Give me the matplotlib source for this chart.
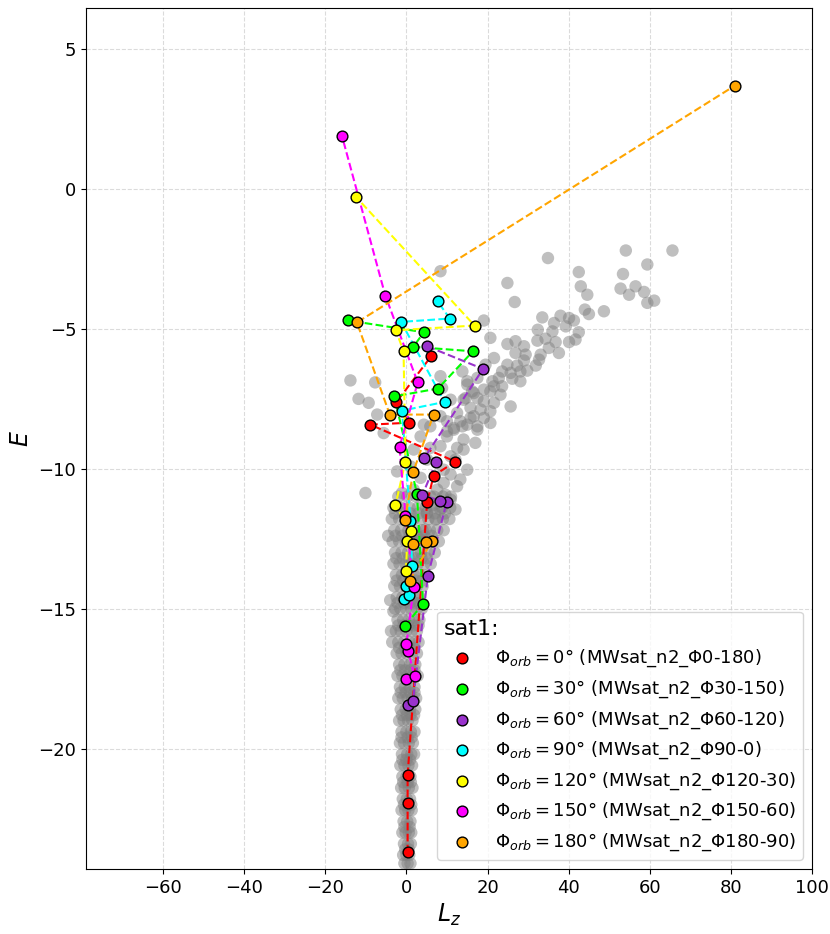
import matplotlib
matplotlib.use("Agg")
import matplotlib.pyplot as plt

# ---------------- background (gray) particles ----------------
# upper-right branch and middle region
bg_branch_lz = [54.1, 65.6, 34.9, 59.4, 42.5, 53.4, 24.9, 43.0, 52.8, 56.5, 54.9, 44.6, 58.6, 61.1, 59.4,
                26.7, 48.7, 44.0, 45.0, 33.5, 38.0, 40.1, 41.3, 36.4, 39.3, 19.1, 32.4, 36.0, 42.5, 41.7,
                40.1, 20.7, 32.3, 34.3, 36.8, 24.9, 26.9, 29.0, 35.1, 37.6, 33.1, 26.9, 29.4, 21.6, 32.7,
                29.0, 31.9, 24.9, 27.3, 29.8, 23.6, 28.1, 25.7, 22.8, 26.1, 28.1, 21.2, 21.6, 23.6, 19.1,
                13.8, 15.0, 16.2, 20.7, 23.2, 17.5, 19.1, 21.6, 25.7, 14.6, 15.8, 18.3, 20.7, 16.6, 19.1,
                20.7, 13.3, 15.0, 17.5, 11.7, 10.0, 8.4]
bg_branch_e = [-2.21, -2.21, -2.48, -2.71, -2.98, -3.05, -3.37, -3.49, -3.57, -3.49, -3.79, -3.79, -3.69, -4.00, -4.08,
               -4.05, -4.38, -4.32, -4.48, -4.60, -4.54, -4.62, -4.71, -4.80, -4.92, -4.71, -5.04, -5.10, -5.13, -5.39,
               -5.48, -5.33, -5.43, -5.36, -5.48, -5.55, -5.45, -5.63, -5.69, -5.87, -5.93, -5.87, -5.93, -6.05, -6.11,
               -6.14, -6.32, -6.29, -6.32, -6.50, -6.53, -6.53, -6.58, -6.76, -6.79, -6.88, -6.88, -7.06, -7.06, -7.18,
               -6.53, -6.88, -7.24, -7.24, -7.36, -7.48, -7.60, -7.65, -7.78, -7.48, -7.83, -7.89, -7.95, -8.13, -8.19,
               -8.37, -8.31, -8.43, -8.49, -8.55, -8.67, -2.95]

bg_mid_lz = [-13.8, -7.7, -11.8, -9.3, -7.2, -5.6, -10.1, -2.3, 3.5, 1.8, 5.9, 8.8, 8.4, 10.9, 15.0,
             14.1, 16.6, 12.5, 15.8, 10.0, 11.7, 13.8, 17.5, 14.1, 17.0, 12.5, 10.0, 8.4, 10.9, 14.1,
             9.2, 10.9, 15.0, 9.2, 12.5, 7.6, 10.9, 5.9, 8.4, 5.1, -2.3, -1.1, 1.8, 3.5, 1.0,
             5.1, 5.9, 4.3, 8.4, 17.5, 19.5, 12.1, 13.3, 9.6, 7.2, 4.7, 6.7, 12.1, 3.5]
bg_mid_e = [-6.85, -6.92, -7.51, -7.65, -8.07, -8.73, -10.87, -10.10, -8.85, -9.32, -8.49, -7.12, -6.70, -7.54, -7.00,
            -7.54, -7.30, -8.01, -8.19, -8.31, -8.61, -8.49, -8.61, -8.96, -9.08, -9.26, -8.85, -9.20, -9.56, -9.32,
            -10.04, -10.21, -10.04, -10.51, -10.63, -10.75, -11.11, -10.99, -11.46, -11.58, -11.35, -10.87, -10.75, -10.33, -9.92,
            -9.68, -9.26, -8.43, -8.13, -6.76, -6.29, -9.68, -10.39, -10.93, -11.82, -12.18, -11.29, -11.46, -12.54]

# the narrow bound column near Lz = 0 (rows of E with the Lz values read on each row)
col_rows_e = [-24.1, -23.8, -23.4, -23.0, -22.6, -22.2, -21.8, -21.4, -21.0, -20.6, -20.2, -19.8, -19.4, -19.0,
              -18.6, -18.2, -17.8, -17.4, -17.0, -16.6, -16.2, -15.8, -15.4, -15.0, -14.6, -14.2, -13.8, -13.4,
              -13.0, -12.6, -12.2, -11.8, -11.4, -11.0]
col_rows_lz = [
    [-0.5, 0.3, 1.0], [-0.8, 0.0, 0.7], [-0.6, 0.4, 1.1], [-1.0, -0.2, 0.6, 1.2], [-0.7, 0.2, 1.0],
    [-1.2, -0.3, 0.5, 1.3], [-0.9, 0.1, 0.9], [-1.3, -0.4, 0.6, 1.5], [-1.0, 0.0, 1.0],
    [-1.5, -0.5, 0.5, 1.4], [-1.1, 0.2, 1.2, 1.9], [-1.6, -0.6, 0.6, 1.6], [-1.2, 0.0, 1.1, 2.0],
    [-1.8, -0.7, 0.4, 1.5], [-1.4, -0.2, 0.9, 2.2], [-2.0, -0.9, 0.3, 1.4, 2.4], [-1.6, -0.4, 0.8, 2.0],
    [-2.2, -1.0, 0.2, 1.5, 2.8], [-1.8, -0.5, 0.9, 2.2], [-2.4, -1.2, 0.1, 1.4, 2.6],
    [-2.0, -0.6, 0.8, 2.0, 3.0], [-2.6, -1.4, 0.0, 1.3, 2.6], [-2.2, -0.8, 0.6, 2.0, 3.2],
    [-2.8, -1.5, -0.1, 1.2, 2.6, 3.8], [-2.4, -1.0, 0.5, 1.9, 3.3], [-3.0, -1.6, -0.2, 1.2, 2.6, 4.0],
    [-2.6, -1.1, 0.4, 1.9, 3.4, 5.0], [-3.2, -1.7, -0.2, 1.3, 2.8, 4.4, 6.0],
    [-2.8, -1.2, 0.4, 2.0, 3.6, 5.2, 7.0], [-3.4, -1.8, -0.2, 1.4, 3.0, 4.6, 6.4, 8.0],
    [-3.0, -1.3, 0.5, 2.2, 4.0, 5.8, 7.6, 9.2], [-3.6, -1.8, 0.0, 1.8, 3.6, 5.4, 7.2, 9.0, 10.6],
    [-3.2, -1.2, 0.8, 2.8, 4.8, 6.8, 8.8, 10.8], [-2.0, 0.2, 2.4, 4.6, 6.8, 9.0, 11.0]]
# further column particles read between the rows above (the column is crowded)
col_rows2_e = [-23.6, -22.8, -22.0, -21.2, -20.4, -19.6, -18.8, -18.0, -17.2, -16.4, -15.6, -14.8,
               -14.0, -13.2, -12.4, -11.6]
col_rows2_lz = [
    [-0.3, 0.6], [-0.5, 0.8], [-0.6, 0.4, 1.2], [-0.8, 0.3, 1.1], [-1.0, 0.0, 0.9],
    [-1.2, 0.3, 1.3], [-1.1, 0.1, 1.0, 1.9], [-1.4, -0.2, 0.9, 2.0], [-1.5, -0.3, 1.0, 2.0],
    [-1.8, -0.4, 0.6, 1.8], [-2.0, -0.7, 0.5, 1.8, 3.0], [-2.2, -0.6, 0.8, 2.2, 3.2],
    [-2.4, -0.8, 0.8, 2.3, 3.8], [-2.5, -0.9, 0.7, 2.2, 3.7, 5.0], [-2.7, -1.0, 0.8, 2.6, 4.4, 6.2],
    [-2.8, -0.9, 1.0, 3.0, 5.0, 7.0, 9.5]]
col_extra_lz = [-4.0, -3.8, -4.5, -3.2, -3.5]
col_extra_e = [-14.7, -15.8, -12.4, -15.1, -16.2]

# ---------------- satellite tracks ----------------
red_lz = [0.3, 0.3, 0.3, 5.1, 6.7, 12.1, -8.9, 0.7, -2.5, 6.1]
red_e = [-23.71, -21.94, -20.95, -11.21, -10.25, -9.75, -8.43, -8.36, -7.63, -5.99]

green_lz = [-0.25, 4.1, 2.6, -3.0, 7.8, 16.4, 1.7, 4.3, -14.3]
green_e = [-15.61, -14.82, -10.89, -7.42, -7.14, -5.81, -5.65, -5.13, -4.71]

purple_lz = [0.3, 1.6, 5.3, 9.9, 8.4, 3.9, 7.3, 4.4, 18.9, 5.1]
purple_e = [-18.46, -18.31, -13.82, -11.21, -11.14, -10.96, -9.77, -9.62, -6.44, -5.63]

cyan_lz = [-0.5, 0.7, -0.2, 1.4, 1.0, -1.1, 9.4, -1.3, 10.7, 7.7]
cyan_e = [-14.65, -14.50, -14.20, -13.49, -11.88, -7.93, -7.62, -4.76, -4.64, -4.03]

yellow_lz = [-0.1, 0.2, 1.2, -2.7, -0.25, -0.7, -2.6, 16.8, -12.4]
yellow_e = [-13.64, -12.57, -12.24, -11.31, -9.75, -5.81, -5.06, -4.89, -0.30]

magenta_lz = [-0.1, 2.0, 0.4, 0.0, 1.8, -0.25, -1.7, 2.8, -5.2, -15.9]
magenta_e = [-17.51, -17.42, -16.50, -16.26, -14.24, -11.68, -9.23, -6.92, -3.82, 1.89]

orange_lz = [0.8, 6.3, 4.9, 1.7, -0.4, 1.7, 6.7, -4.1, -12.2, 81.0]
orange_e = [-14.00, -12.57, -12.63, -12.69, -11.85, -10.11, -8.07, -8.07, -4.78, 3.68]

angles = ["0", "30", "60", "90", "120", "150", "180"]
run_names = ["MWsat_n2_Φ0-180", "MWsat_n2_Φ30-150", "MWsat_n2_Φ60-120", "MWsat_n2_Φ90-0",
             "MWsat_n2_Φ120-30", "MWsat_n2_Φ150-60", "MWsat_n2_Φ180-90"]
colors = ["red", "lime", "darkorchid", "cyan", "yellow", "magenta", "orange"]

tracks = [(red_lz, red_e), (green_lz, green_e), (purple_lz, purple_e), (cyan_lz, cyan_e),
          (yellow_lz, yellow_e), (magenta_lz, magenta_e), (orange_lz, orange_e)]

# ---------------- plot ----------------
fig = plt.figure(figsize=(8.3, 9.34), dpi=100)
ax = fig.add_axes([0.1036, 0.0696, 0.8747, 0.9218])

bg_lz = bg_branch_lz + bg_mid_lz + col_extra_lz
bg_e = bg_branch_e + bg_mid_e + col_extra_e
for e, row in list(zip(col_rows_e, col_rows_lz)) + list(zip(col_rows2_e, col_rows2_lz)):
    bg_lz += row
    bg_e += [e] * len(row)

ax.scatter(bg_lz, bg_e, s=80, color="gray", alpha=0.5, edgecolors="none", zorder=1)

for (lz, e), c, a, rn in zip(tracks, colors, angles, run_names):
    ax.plot(lz, e, linestyle="--", color=c, lw=1.5, zorder=2)
    ax.scatter(lz, e, s=60, color=c, edgecolors="black", linewidths=1.0, zorder=3,
               label=r"$\Phi_{orb} = %s°$ (%s)" % (a, rn))

ax.set_xlim(-79, 100)
ax.set_ylim(-24.3, 6.45)
ax.set_xticks([-60, -40, -20, 0, 20, 40, 60, 80, 100])
ax.set_yticks([5, 0, -5, -10, -15, -20])
ax.tick_params(labelsize=13)
ax.grid(True, linestyle="--", color="lightgray", alpha=0.8, lw=0.8)
ax.set_axisbelow(True)
ax.set_xlabel(r"$L_z$", fontsize=17)
ax.set_ylabel(r"$E$", fontsize=17)

leg = ax.legend(title="sat1:", loc="lower right", fontsize=13, title_fontsize=16,
                alignment="left")

fig.savefig("out.png", dpi=100)
